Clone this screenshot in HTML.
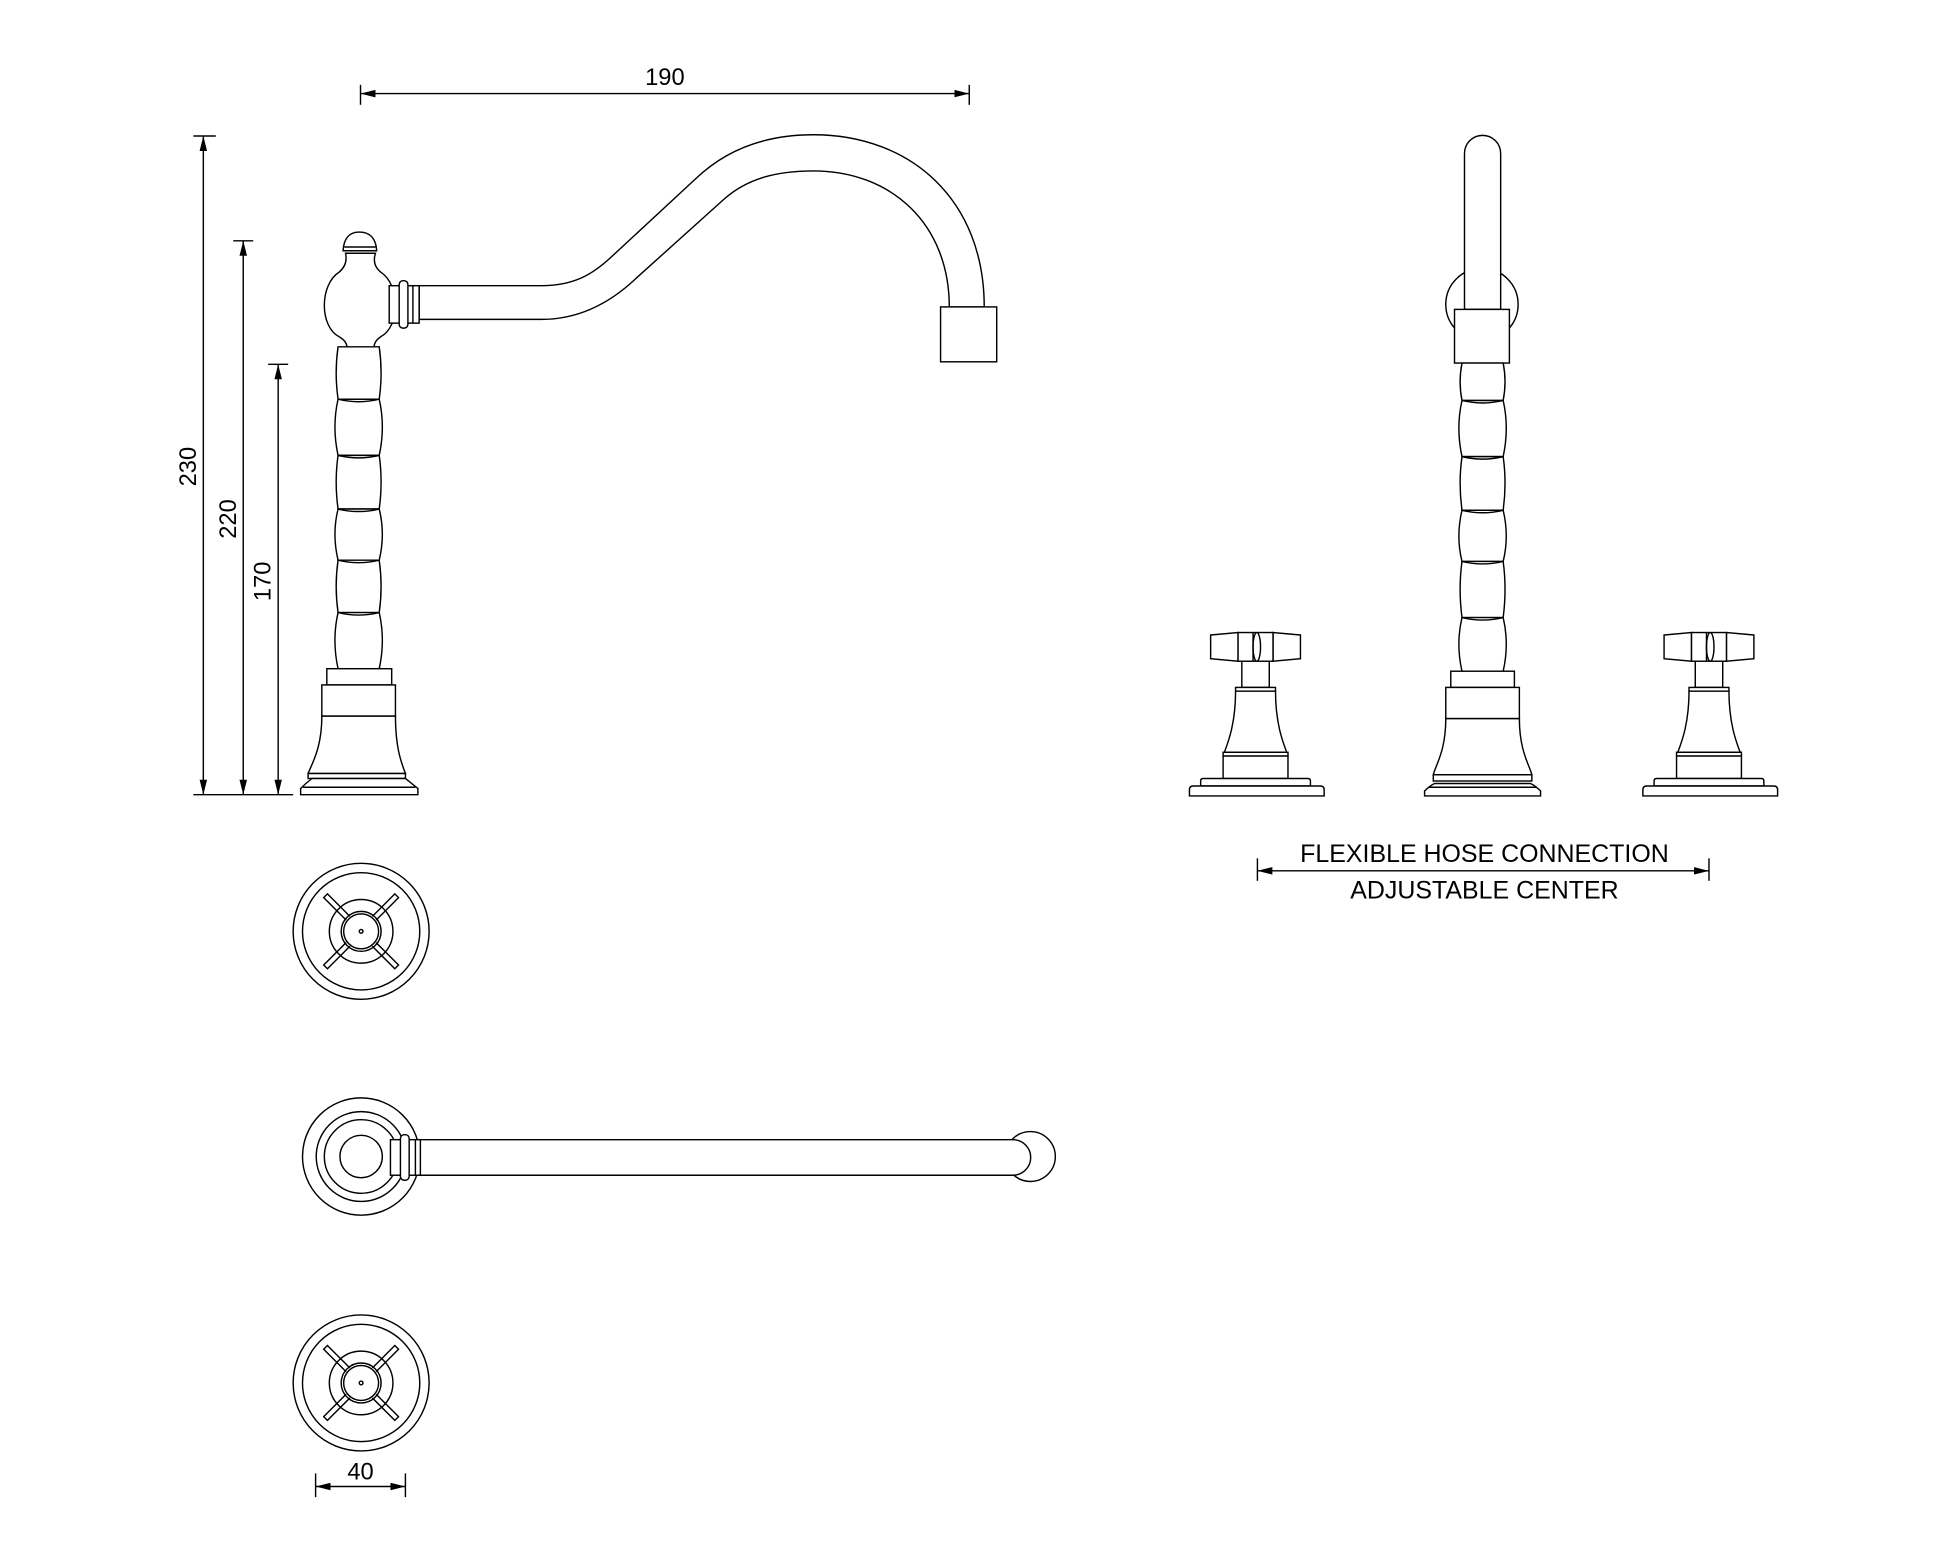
<!DOCTYPE html>
<html><head><meta charset="utf-8"><style>
html,body{margin:0;padding:0;background:#fff;}
svg{display:block;}
text{font-family:"Liberation Sans",sans-serif;fill:#000;}
</style></head><body>
<svg width="1946" height="1557" viewBox="0 0 1560 1248" preserveAspectRatio="none" xmlns="http://www.w3.org/2000/svg">
<defs>
<marker id="a" viewBox="0 0 12 6" refX="12" refY="3" markerWidth="12" markerHeight="6" orient="auto-start-reverse" markerUnits="userSpaceOnUse"><path d="M0,0 L12,3 L0,6 Z" fill="#000"/></marker>
<g id="handle" fill="#fff" stroke="#000" stroke-width="1.15">
<path d="M-36,509 L-14,507 L-14,530 L-36,528 Z"/>
<path d="M36,509 L14,507 L14,530 L36,528 Z"/>
<rect x="-14" y="507" width="28" height="23"/>
<ellipse cx="1" cy="518.5" rx="3" ry="11.5"/>
<line x1="-2" y1="507" x2="-2" y2="530"/>
<rect x="-11" y="530" width="22" height="21"/>
<rect x="-16" y="551" width="32" height="3"/>
<path d="M-16,554 C-16,580 -22,595 -25,603 L25,603 C22,595 16,580 16,554 Z"/>
<rect x="-26" y="603" width="52" height="3"/>
<rect x="-26" y="606" width="52" height="18"/>
<path d="M-44,630 L-44,626 Q-44,624 -42,624 L42,624 Q44,624 44,626 L44,630 Z"/>
<path d="M-53,638 L-53,633 Q-53,630 -50,630 L52,630 Q55,630 55,633 L55,638 Z"/>
</g>
<g id="top" fill="none" stroke="#000" stroke-width="1.15">
<circle r="54.5"/><circle r="47"/><circle r="25.5"/><circle r="16"/><circle r="14"/><circle r="1.5"/>
<path d="M-9,-12 L-27,-30 L-30,-27 L-12,-9"/>
<path d="M9,-12 L27,-30 L30,-27 L12,-9"/>
<path d="M-9,12 L-27,30 L-30,27 L-12,9"/>
<path d="M9,12 L27,30 L30,27 L12,9"/>
</g>
</defs>
<g fill="none" stroke="#000" stroke-width="1.15">
<line x1="289" y1="68" x2="289" y2="84"/><line x1="777" y1="68" x2="777" y2="84"/>
<line x1="289" y1="75" x2="777" y2="75" marker-start="url(#a)" marker-end="url(#a)"/>
<line x1="155" y1="109" x2="173" y2="109"/><line x1="187" y1="193" x2="203" y2="193"/><line x1="215" y1="292" x2="231" y2="292"/>
<line x1="155" y1="637" x2="235" y2="637"/>
<line x1="163" y1="109" x2="163" y2="637" marker-start="url(#a)" marker-end="url(#a)"/>
<line x1="195" y1="193" x2="195" y2="637" marker-start="url(#a)" marker-end="url(#a)"/>
<line x1="223" y1="292" x2="223" y2="637" marker-start="url(#a)" marker-end="url(#a)"/>
</g>
<g fill="#fff" stroke="#000" stroke-width="1.15">
<path d="M336,229 L434,229 C460,229 475,220 490,206 L558,143 C580,122 610,108 652,108 C730,108 789,160 789,246 L761,246 C761,180 715,137 652,137 C625,137 600,142 580,160 L510,223 C490,242 465,256 434,256 L336,256 Z"/>
<rect x="754" y="246" width="45" height="44"/>
<path d="M277,203 Q279,212 272,218 C256,228 256,262 272,270 Q279,274 278,280 L300,280 Q299,274 305,270 C321,262 321,228 305,218 Q298,212 301,203 Z"/>
<path d="M275,201 Q276,186 288,186 Q301,186 302,201 Z"/>
<line x1="276" y1="198" x2="301" y2="198"/>
<rect x="312" y="229" width="24" height="30"/>
<rect x="320" y="225" width="7" height="38" rx="3"/>
<line x1="331" y1="229" x2="331" y2="259"/>
<path d="M271,278 Q268,299 271,320 L304,320 Q307,299 304,278 Z"/>
<path d="M271,320 Q266,342 271,365 L304,365 Q309,342 304,320 Z"/>
<path d="M271,365 Q268,386 271,408 L304,408 Q307,386 304,365 Z"/>
<path d="M271,408 Q266,428 271,449 L304,449 Q309,428 304,408 Z"/>
<path d="M271,449 Q268,470 271,491 L304,491 Q307,470 304,449 Z"/>
<path d="M271,491 Q266,513 271,536 L304,536 Q309,513 304,491 Z"/>
<path d="M271,320 Q287.5,324 304,320 M271,365 Q287.5,369 304,365 M271,408 Q287.5,412 304,408 M271,449 Q287.5,453 304,449 M271,491 Q287.5,495 304,491" fill="none"/>
<rect x="262" y="536" width="52" height="13"/>
<rect x="258" y="549" width="59" height="25"/>
<path d="M258,574 C258,600 250,612 247,620 L325,620 C322,612 317,600 317,574 Z"/>
<rect x="247" y="620" width="78" height="4"/>
<path d="M241,637 L241,632 Q245,628 250,624 L325,624 Q330,628 335,632 L335,637 Z"/>
<line x1="243" y1="631" x2="333" y2="631"/>

<circle cx="1188" cy="244" r="29"/>
<path d="M1174,248 L1174,123 A14.5,14.5 0 0 1 1203,123 L1203,248 Z"/>
<rect x="1166" y="248" width="44" height="43"/>
<path d="M1172,291 Q1169,306 1172,321 L1205,321 Q1208,306 1205,291 Z"/>
<path d="M1172,321 Q1167,343 1172,366 L1205,366 Q1210,343 1205,321 Z"/>
<path d="M1172,366 Q1169,387 1172,409 L1205,409 Q1208,387 1205,366 Z"/>
<path d="M1172,409 Q1167,430 1172,450 L1205,450 Q1210,430 1205,409 Z"/>
<path d="M1172,450 Q1169,472 1172,495 L1205,495 Q1208,472 1205,450 Z"/>
<path d="M1172,495 Q1167,516 1172,538 L1205,538 Q1210,516 1205,495 Z"/>
<path d="M1172,321 Q1188.5,325 1205,321 M1172,366 Q1188.5,370 1205,366 M1172,409 Q1188.5,413 1205,409 M1172,450 Q1188.5,454 1205,450 M1172,495 Q1188.5,499 1205,495" fill="none"/>
<rect x="1163" y="538" width="51" height="13"/>
<rect x="1159" y="551" width="59" height="25"/>
<path d="M1159,576 C1159,602 1151,613 1149,621 L1228,621 C1226,613 1218,602 1218,576 Z"/>
<rect x="1149" y="621" width="79" height="5"/>
<path d="M1142,638 L1142,634 Q1146,630 1150,628 L1227,628 Q1231,630 1235,634 L1235,638 Z"/>
<line x1="1145" y1="631" x2="1232" y2="631"/>
</g>
<use href="#handle" x="1006.5" y="0"/>
<use href="#handle" x="1370" y="0"/>
<g fill="none" stroke="#000" stroke-width="1.15">
<line x1="1008" y1="688" x2="1008" y2="706"/><line x1="1370" y1="688" x2="1370" y2="706"/>
<line x1="1008" y1="698" x2="1370" y2="698" marker-start="url(#a)" marker-end="url(#a)"/>
</g>
<use href="#top" x="289.5" y="746.5"/>
<use href="#top" x="289.5" y="1108.5"/>
<g fill="#fff" stroke="#000" stroke-width="1.15">
<circle cx="826" cy="927" r="20"/>
<path d="M313,913.5 L812,913.5 A14.25,14.25 0 0 1 812,942 L313,942 Z"/>
<circle cx="289.5" cy="927" r="47"/><circle cx="289.5" cy="927" r="36"/><circle cx="289.5" cy="927" r="29.5"/><circle cx="289.5" cy="927" r="17"/>
<rect x="313" y="913.5" width="24" height="28.5"/>
<rect x="321" y="909.5" width="7" height="36.5" rx="3"/>
<line x1="333" y1="913.5" x2="333" y2="942"/>
</g>
<g fill="none" stroke="#000" stroke-width="1.15">
<line x1="253" y1="1181" x2="253" y2="1200"/><line x1="325" y1="1181" x2="325" y2="1200"/>
<line x1="253" y1="1191.5" x2="325" y2="1191.5" marker-start="url(#a)" marker-end="url(#a)"/>
</g>
<text x="533" y="68" font-size="19" text-anchor="middle">190</text>
<text transform="translate(157,374) rotate(-90)" font-size="19" text-anchor="middle">230</text>
<text transform="translate(189,416) rotate(-90)" font-size="19" text-anchor="middle">220</text>
<text transform="translate(217,466) rotate(-90)" font-size="19" text-anchor="middle">170</text>
<text x="289" y="1186" font-size="19" text-anchor="middle">40</text>
<text x="1190" y="691" font-size="20" text-anchor="middle">FLEXIBLE HOSE CONNECTION</text>
<text x="1190" y="720" font-size="20" text-anchor="middle">ADJUSTABLE CENTER</text>
</svg>
</body></html>
